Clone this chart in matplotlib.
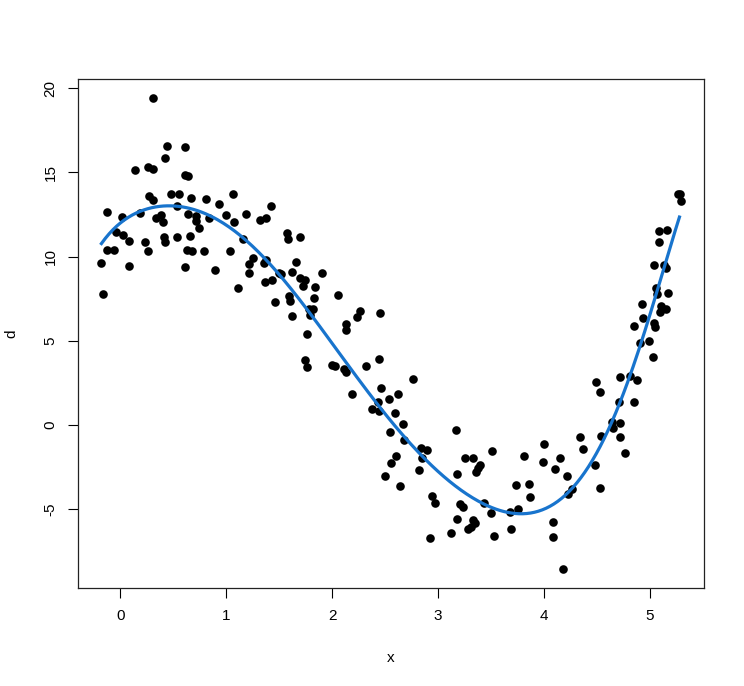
import numpy as np
import matplotlib
matplotlib.use("Agg")
import matplotlib.pyplot as plt

plt.rcParams["font.family"] = ["Liberation Sans", "DejaVu Sans"]

# points (x, d)
x = np.array([
    0.305, 0.44, 0.61, 0.425, 0.135, 0.26, 0.305, 0.61, 0.64, 0.27,
    0.305, 0.48, 0.55, 0.67, 0.81, 0.926, 1.06, -0.13, 0.01, 0.186,
    0.53, 0.64, 0.71, 0.71, 0.74, 0.835, 1.00, 1.07, 1.19, 0.337,
    0.385, 0.406, -0.047, 0.025, 0.079, 0.233, 0.413, 0.42, 0.53, 0.66,
    1.16, -0.13, -0.066, 0.26, 0.627, 0.68, 0.79, 1.03, -0.18, 0.079,
    0.61, 0.89, 1.21, 1.21, 1.11, -0.167, 1.418, 1.32, 1.377, 1.575,
    1.58, 1.70, 1.25, 1.37, 1.358, 1.364, 1.434, 1.496, 1.52, 1.654,
    1.623, 1.70, 1.74, 1.72, 1.836, 1.90, 1.46, 1.59, 1.60, 1.824,
    2.057, 1.623, 1.78, 1.82, 1.79, 2.26, 2.23, 2.455, 2.133, 2.133,
    1.76, 1.746, 1.765, 2.00, 2.03, 2.108, 2.133, 2.32, 2.44, 2.183,
    2.46, 2.625, 2.54, 2.43, 2.38, 2.44, 2.59, 2.55, 2.605, 2.555,
    2.50, 2.763, 2.668, 2.68, 2.84, 2.895, 2.85, 2.82, 2.637, 3.173,
    3.513, 3.25, 3.327, 3.40, 3.377, 3.355, 3.18, 3.816, 3.74, 3.86,
    3.87, 2.94, 2.97, 3.204, 3.236, 3.437, 3.50, 3.677, 3.752, 3.18,
    3.33, 3.346, 3.311, 3.283, 3.126, 2.92, 3.532, 3.686, 4.905, 4.99,
    5.03, 4.496, 4.527, 4.72, 4.81, 4.875, 4.71, 4.855, 4.64, 4.65,
    4.72, 4.54, 4.716, 4.77, 4.34, 4.37, 4.48, 4.53, 4.00, 3.99,
    4.10, 4.156, 4.22, 4.266, 4.23, 4.086, 4.086, 4.18, 5.27, 5.285,
    5.29, 5.09, 5.16, 5.09, 5.04, 5.13, 5.15, 5.063, 5.07, 5.17,
    4.93, 5.11, 5.15, 5.095, 4.94, 4.85, 5.04, 5.05,
])
d = np.array([
    19.44, 16.56, 16.48, 15.83, 15.13, 15.33, 15.19, 14.84, 14.80, 13.60,
    13.35, 13.73, 13.71, 13.49, 13.41, 13.13, 13.73, 12.66, 12.36, 12.56,
    13.01, 12.54, 12.40, 12.10, 11.71, 12.30, 12.46, 12.07, 12.50, 12.30,
    12.44, 12.03, 11.44, 11.30, 10.94, 10.86, 11.16, 10.88, 11.18, 11.22,
    11.04, 10.39, 10.39, 10.35, 10.42, 10.35, 10.35, 10.35, 9.63, 9.42,
    9.40, 9.18, 9.55, 9.00, 8.15, 7.75, 12.98, 12.15, 12.30, 11.38,
    11.04, 11.14, 9.93, 9.79, 9.60, 8.49, 8.60, 9.04, 8.96, 9.65,
    9.06, 8.74, 8.60, 8.25, 8.17, 9.00, 7.30, 7.66, 7.36, 7.54,
    7.73, 6.49, 6.88, 6.86, 6.53, 6.75, 6.40, 6.65, 5.99, 5.62,
    5.38, 3.86, 3.42, 3.56, 3.52, 3.34, 3.13, 3.52, 3.94, 1.86,
    2.18, 1.84, 1.56, 1.35, 0.95, 0.85, 0.73, -0.42, -1.84, -2.24,
    -3.03, 2.73, 0.06, -0.89, -1.37, -1.48, -1.96, -2.69, -3.62, -0.30,
    -1.54, -1.96, -1.96, -2.37, -2.57, -2.77, -2.89, -1.82, -3.56, -3.50,
    -4.29, -4.23, -4.63, -4.69, -4.87, -4.65, -5.20, -5.18, -4.98, -5.58,
    -5.64, -5.83, -6.04, -6.17, -6.39, -6.71, -6.59, -6.17, 4.88, 4.98,
    4.05, 2.55, 1.96, 2.87, 2.91, 2.67, 1.36, 1.36, 0.18, -0.18,
    0.14, -0.65, -0.69, -1.64, -0.71, -1.44, -2.35, -3.72, -1.15, -2.20,
    -2.63, -1.96, -3.00, -3.80, -4.10, -5.76, -6.65, -8.55, 13.71, 13.71,
    13.28, 11.51, 11.57, 10.86, 9.50, 9.50, 9.34, 8.15, 7.77, 7.86,
    7.18, 7.08, 6.86, 6.69, 6.33, 5.88, 6.07, 5.83,
])

# smoothed fit line
fit_x = [-0.18, 0.02, 0.18, 0.274, 0.37, 0.462, 0.56, 0.651, 0.74, 0.84,
         0.93, 1.028, 1.154, 1.28, 1.406, 1.532, 1.658, 1.784, 1.94, 2.13,
         2.32, 2.45, 2.637, 2.82, 3.01, 3.2, 3.39, 3.58, 3.70, 3.83,
         3.96, 4.14, 4.33, 4.52, 4.61, 4.71, 4.80, 4.905, 5.02, 5.15, 5.28]
fit_y = [10.88, 11.87, 12.6, 12.9, 13.05, 13.11, 13.06, 12.95, 12.75, 12.46,
         12.1, 11.67, 10.98, 10.19, 9.5, 8.8, 7.82, 6.82, 5.5, 3.66,
         2.08, 1.09, -0.35, -1.68, -2.87, -3.86, -4.65, -5.08, -5.24, -5.2,
         -4.9, -4.25, -3.26, -1.68, -0.5, 1.09, 2.87, 4.8, 7.02, 9.69, 12.27]

# even out reading jitter in the line
c = np.polyfit(fit_x, fit_y, 8)
xs = np.linspace(fit_x[0], fit_x[-1], 300)

fig = plt.figure(figsize=(7.44, 6.86), dpi=100)
ax = fig.add_axes([0.1052, 0.1429, 0.8406, 0.7424])

ax.plot(x, d, "o", color="black", markersize=6.2, markeredgewidth=0)
ax.plot(xs, np.polyval(c, xs), color="#1874CD", lw=2.3)

# R style 4% padding
xr = x.max() - x.min()
yr = d.max() - d.min()
ax.set_xlim(x.min() - 0.04 * xr, x.max() + 0.04 * xr)
ax.set_ylim(d.min() - 0.04 * yr, d.max() + 0.04 * yr)

ax.set_xticks([0, 1, 2, 3, 4, 5])
ax.set_yticks([-5, 0, 5, 10, 15, 20])
ax.set_yticklabels(["-5", "0", "5", "10", "15", "20"], rotation=90, va="center")
ax.tick_params(direction="out", length=7, width=0.8, labelsize=11, pad=8)
for s in ax.spines.values():
    s.set_linewidth(0.9)
    s.set_color("#222222")

ax.set_xlabel("x", fontsize=11, labelpad=20)
ax.set_ylabel("d", fontsize=11, labelpad=18)

plt.savefig("out.png", dpi=100)
